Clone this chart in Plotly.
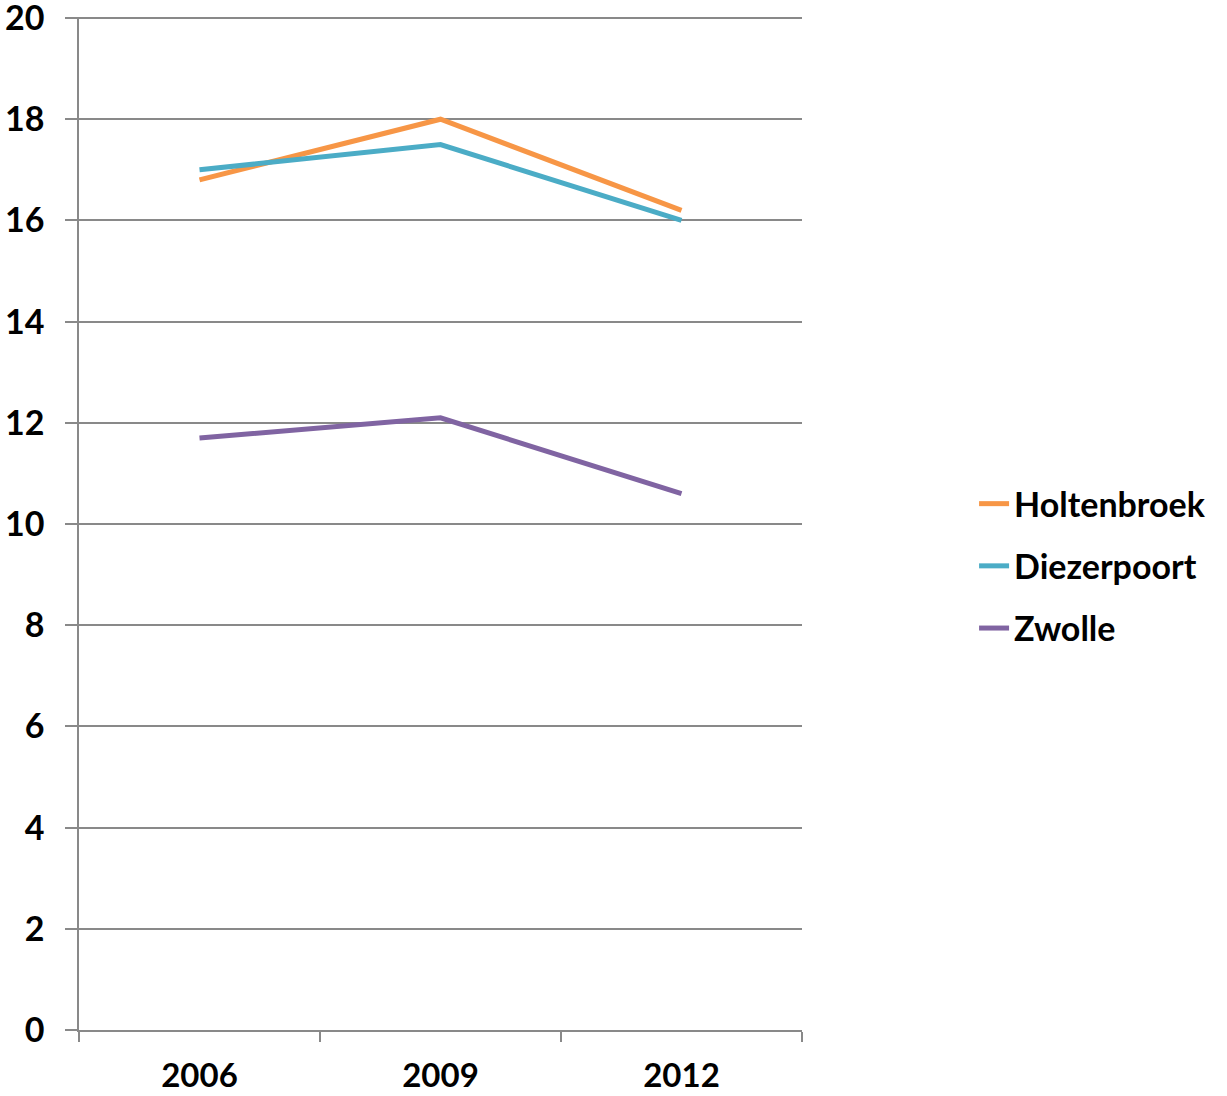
import plotly.graph_objects as go

years = ["2006", "2009", "2012"]
holtenbroek = [16.8, 18.0, 16.2]
diezerpoort = [17.0, 17.5, 16.0]
zwolle = [11.7, 12.1, 10.6]

series = [
    ("Holtenbroek", holtenbroek, "#F79646"),
    ("Diezerpoort", diezerpoort, "#4BACC6"),
    ("Zwolle", zwolle, "#8064A2"),
]

grid = "#898989"
font_family = "Lato, Calibri, 'Open Sans', sans-serif"
fsize = 34

fig = go.Figure()
for name, vals, color in series:
    fig.add_trace(go.Scatter(
        x=years, y=vals, name=name, mode="lines",
        legendgroup=name,
        line=dict(color=color, width=5),
    ))

fig.update_layout(
    width=1227, height=1096,
    margin=dict(l=79, r=425, t=17, b=66, autoexpand=False),
    paper_bgcolor="white", plot_bgcolor="white",
    font=dict(family=font_family, size=fsize, color="black", weight="bold"),
    showlegend=True,
    legend=dict(
        x=1.238, xanchor="left", y=0.458, yanchor="middle",
        traceorder="grouped", tracegroupgap=15,
        font=dict(size=fsize, family=font_family, weight="bold"),
        itemwidth=30,
    ),
)

fig.update_xaxes(
    type="category", range=[-0.5, 2.5], tickson="boundaries",
    ticks="outside", ticklen=10, tickcolor=grid, tickwidth=1.5,
    showline=True, linecolor=grid, linewidth=1.5,
    showgrid=False, zeroline=False, automargin=False,
    ticklabelstandoff=16, ticklabeloverflow="allow",
    tickfont=dict(size=33, weight="bold"),
)

fig.update_yaxes(
    range=[0, 20.02], tickvals=list(range(0, 21, 2)),
    ticks="outside", ticklen=12, tickcolor=grid, tickwidth=1.5,
    showline=True, linecolor=grid, linewidth=1.5,
    showgrid=True, gridcolor=grid, gridwidth=1.5,
    zeroline=False, automargin=False,
    ticklabelstandoff=14, ticklabeloverflow="allow",
    tickfont=dict(size=fsize, weight="bold"),
)

fig.write_html("out.html")
